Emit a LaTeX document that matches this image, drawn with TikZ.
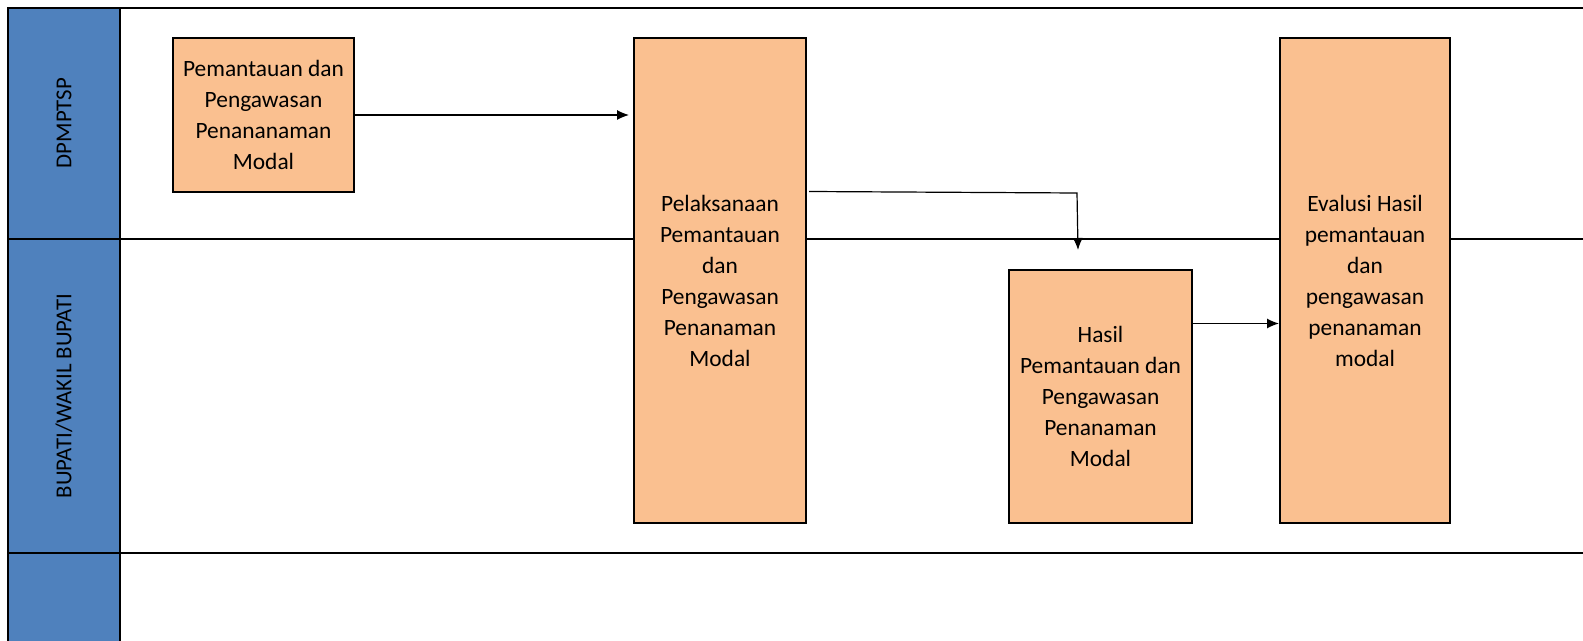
\documentclass[tikz,border=0pt]{standalone}
\usepackage{fontspec}
\setmainfont{Carlito}
\usetikzlibrary{arrows.meta}
\definecolor{laneblue}{HTML}{4F81BD}
\definecolor{boxorange}{HTML}{FAC090}

\begin{document}
\begin{tikzpicture}[x=0.5pt,y=-0.5pt,
  proc/.style={draw,line width=1pt,fill=boxorange,align=center,inner sep=0pt,
    font=\fontsize{11.7}{15.5}\selectfont},
  lanelabel/.style={rotate=90,font=\fontsize{11.4}{14}\selectfont},
  lanerule/.style={line width=1.25pt},
  flow/.style={-{Latex[length=6pt,width=5pt]},line width=0.6pt}]
\useasboundingbox (0,0) rectangle (1583,641);

% swimlanes
\fill[laneblue] (8,8) rectangle (120,641);
\draw[lanerule] (1583,8) -- (8,8) -- (8,641);
\draw[lanerule] (120,8) -- (120,641);
\draw[lanerule] (8,239) -- (1583,239);
\draw[lanerule] (8,553) -- (1583,553);

\node[lanelabel] (dpm) at (64,123) {DPMPTSP};
\node[lanelabel] (bup) at (64,396) {BUPATI/WAKIL BUPATI};

% steps
\node[proc,minimum width=90.5pt,minimum height=77pt] (p1) at (263.5,115)
  {Pemantauan dan\\Pengawasan\\Penananaman\\Modal};
\node[proc,minimum width=86pt,minimum height=242.5pt] (p2) at (720,280.5)
  {Pelaksanaan\\Pemantauan\\dan\\Pengawasan\\Penanaman\\Modal};
\node[proc,minimum width=91.5pt,minimum height=126.5pt] (p3) at (1100.5,396.5)
  {Hasil\\Pemantauan dan\\Pengawasan\\Penanaman\\Modal};
\node[proc,minimum width=85pt,minimum height=242.5pt] (p4) at (1365,280.5)
  {Evalusi Hasil\\pemantauan\\dan\\pengawasan\\penanaman\\modal};

\coordinate (bend) at (1077,193);
\coordinate (drop) at (1078,250);

\draw[flow,shorten >=2pt] (p1) -- (p2.west |- p1);
\draw[flow] ([xshift=1pt,yshift=44.5pt]p2.east) -- (bend) -- (drop);
\draw[flow] ([yshift=36.5pt]p3.east) -- ([yshift=36.5pt]p3.east -| p4.west);

\end{tikzpicture}
\end{document}
